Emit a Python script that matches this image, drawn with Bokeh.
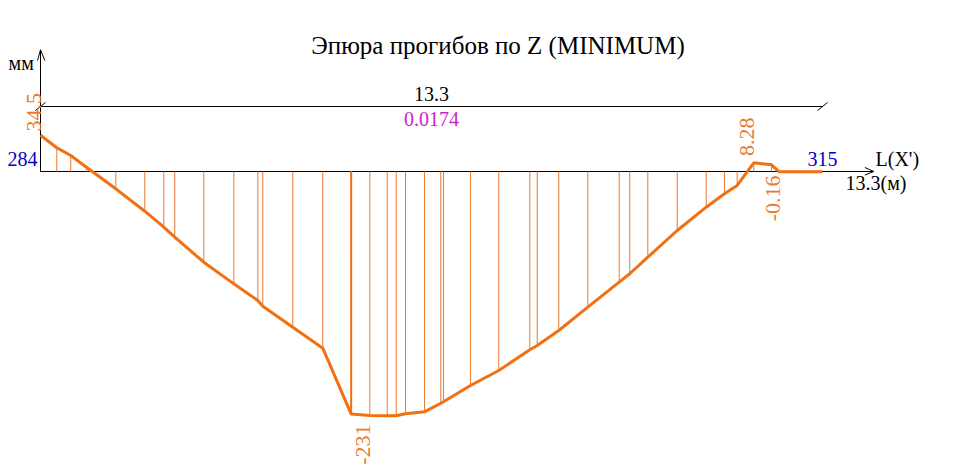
import math
from bokeh.plotting import figure
from bokeh.models import Range1d, ColumnDataSource
from bokeh.core.properties import value
from bokeh.embed import file_html
from bokeh.resources import INLINE

# ---------------- data ----------------
title_text = "Эпюра прогибов по Z (MINIMUM)"
span_length = 13.3          # m
span_param = "0.0174"
node_start = "284"
node_end = "315"
y_unit = "мм"
x_axis_name = "L(X')"
x_axis_len = "13.3(м)"

x_nodes = [0.0, 0.277, 0.515, 0.782, 1.281, 1.774, 2.097, 2.284, 2.777, 3.288,
           3.696, 3.781, 4.291, 4.801, 5.284, 5.601, 5.897, 6.050, 6.208, 6.531,
           6.808, 6.854, 7.313, 7.795, 8.322, 8.448, 8.815, 9.308, 9.842, 10.022,
           10.329, 10.829, 11.322, 11.633, 11.849, 12.131, 12.433, 12.560, 13.3]
deflection = [34.5, 22.6, 15.2, 4.1, -16.5, -37.8, -53.0, -62.6, -86.4, -107.0,
              -122.9, -128.3, -148.3, -168.3, -231.0, -232.4, -232.7, -232.7, -230.8, -228.9,
              -220.7, -219.3, -203.8, -189.5, -169.8, -165.7, -151.4, -129.2, -105.4, -97.4,
              -81.6, -56.2, -34.0, -21.2, -13.3, 8.28, 6.4, -0.16, -0.16]

# labelled extreme values: node index and text
value_label_idx = [0, 14, 35, 37]
value_label_text = ["34.5", "-231", "8.28", "-0.16"]

# ---------------- scales (reference pixel geometry) ----------------
PX_X0, PX_Y0 = 40.0, 171.0           # origin in page pixels
PX_PER_M = 782.0 / span_length
PX_PER_MM = 1.05
OFF = 0                               # canvas offset on the page
W, H = 977, 476
MID = 0.3375                          # em-box middle above baseline

def X(px):
    return (px - PX_X0) / PX_PER_M

def Y(py):
    return (PX_Y0 - py) / PX_PER_MM

ORANGE = "#F07012"
ORANGE_TXT = "#EC7A2A"
BLUE = "#0000C8"
MAGENTA = "#CC22CC"
FONT = value("'Liberation Serif', 'Times New Roman', serif")

p = figure(width=W, height=H, output_backend="svg", toolbar_location=None,
           x_range=Range1d(X(OFF), X(OFF + W)), y_range=Range1d(Y(OFF + H), Y(OFF)),
           x_axis_type=None, y_axis_type=None, min_border=0)
p.outline_line_color = None
p.background_fill_color = "white"
p.border_fill_color = "white"

# ---------------- axes (drawn as lines) ----------------
p.line([0, 0], [0, Y(49.3)], line_color="black", line_width=1)
p.line([X(37.0), 0, X(44.3)], [Y(60), Y(49.3), Y(60)], line_color="black", line_width=1)
x_axis_end = X(873.3)
p.line([0, x_axis_end], [0, 0], line_color="black", line_width=1)
p.line([X(864.3), x_axis_end, X(864.3)], [Y(167.0), 0, Y(174.5)], line_color="black", line_width=1)

# dimension line over the span
dim_y = Y(106)
p.line([0, span_length], [dim_y, dim_y], line_color="black", line_width=1)
dx, dy = 5.0 / PX_PER_M, 4.0 / PX_PER_MM
for xe in (0.0, span_length):
    p.line([xe - dx, xe + dx], [dim_y - dy, dim_y + dy], line_color="black", line_width=1)

# ---------------- hatching and diagram ----------------
hatch_x = x_nodes[1:-2]
hatch_v = deflection[1:-2]
p.segment(x0=hatch_x, y0=[0] * len(hatch_x), x1=hatch_x, y1=hatch_v,
          line_color="#EB7A30", line_width=1)
i_min = value_label_idx[1]
p.segment(x0=[x_nodes[i_min]], y0=[0], x1=[x_nodes[i_min]], y1=[deflection[i_min]],
          line_color=ORANGE, line_width=2)
p.line(x_nodes, deflection, line_color=ORANGE, line_width=3)

# ---------------- value labels (rotated) ----------------
ROT_SIZE = 22
lab_dx_px = [0.5, 18.8, 0.2, 1.0]       # baseline position relative to node
lab_dy_px = [3.8, -10.4, 6.8, -3.8]
lab_align = ["left", "right", "left", "right"]
lx = [x_nodes[i] + (d - MID * ROT_SIZE) / PX_PER_M for i, d in zip(value_label_idx, lab_dx_px)]
ly = [deflection[i] + d / PX_PER_MM for i, d in zip(value_label_idx, lab_dy_px)]
src = ColumnDataSource(dict(x=lx, y=ly, t=value_label_text, a=lab_align))
p.text(x="x", y="y", text="t", text_align="a", source=src, angle=math.pi / 2,
       text_baseline="middle", text_color=ORANGE_TXT, text_font=FONT,
       text_font_size=f"{ROT_SIZE}px")

# ---------------- other texts ----------------
def txt(px, base_py, s, color="black", align="left", size=20):
    p.text(x=[X(px)], y=[Y(base_py - MID * size)], text=[s], text_align=align,
           text_baseline="middle", text_color=color, text_font=FONT,
           text_font_size=f"{size}px")

x_end_px = PX_X0 + span_length * PX_PER_M
x_mid_px = PX_X0 + span_length / 2 * PX_PER_M
txt(497.5, 53, title_text, align="center", size=25)
txt(8, 69, y_unit)
txt(37, 165, node_start, color=BLUE, align="right")
txt(x_end_px, 165, node_end, color=BLUE, align="center")
txt(x_mid_px, 100, f"{span_length}", align="center")
txt(x_mid_px, 125, span_param, color=MAGENTA, align="center")
txt(875, 165, x_axis_name)
txt(845, 189, x_axis_len)

open("out.html", "w").write(file_html(p, INLINE))
